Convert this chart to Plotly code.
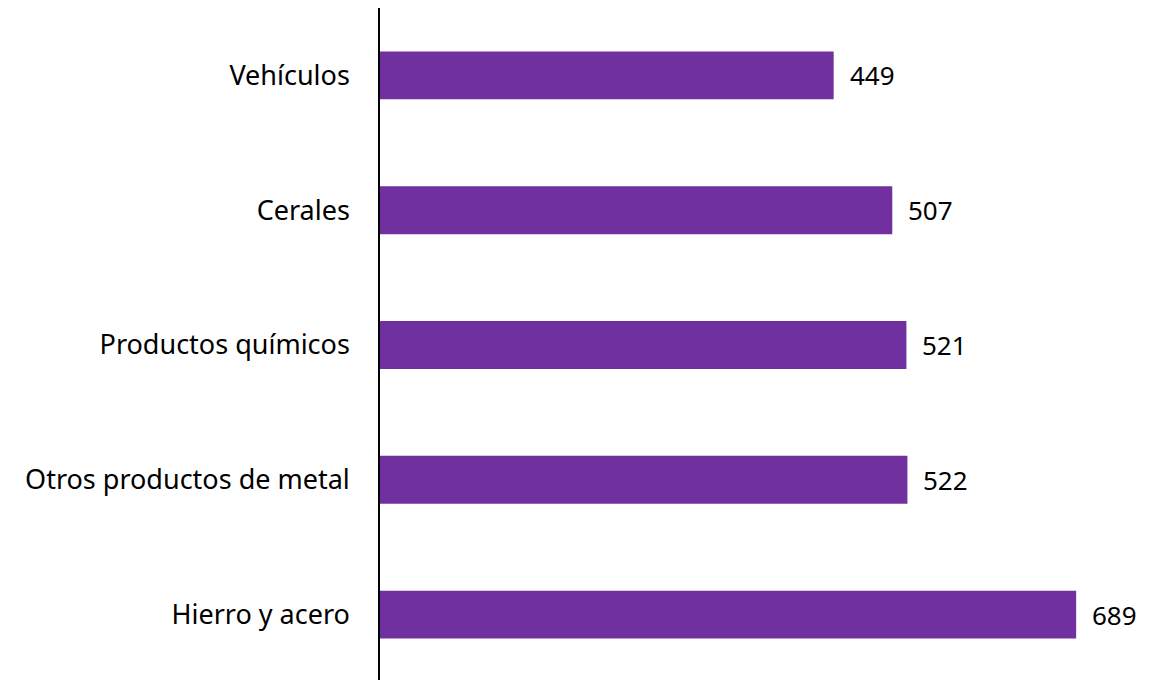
import plotly.graph_objects as go

categorias = ["Vehículos", "Cerales", "Productos químicos", "Otros productos de metal", "Hierro y acero"]
valores = [449, 507, 521, 522, 689]

fig = go.Figure()

fig.add_trace(go.Bar(
    x=valores,
    y=categorias,
    orientation="h",
    marker=dict(color="#7030A0", line=dict(width=0)),
    width=0.355,
    cliponaxis=False,
))

# etiquetas de valor a la derecha de cada barra
for cat, val in zip(categorias, valores):
    fig.add_annotation(
        x=val, y=cat,
        text=str(val),
        showarrow=False,
        xanchor="left",
        xshift=14,
        font=dict(size=26, color="#000000"),
    )

fig.update_layout(
    width=1162,
    height=680,
    showlegend=False,
    plot_bgcolor="white",
    paper_bgcolor="white",
    font=dict(family="Noto Sans, Open Sans, sans-serif", size=27, color="#000000"),
    margin=dict(l=372, r=12, t=0, b=6),
    xaxis=dict(
        range=[0, 770],
        visible=False,
    ),
    yaxis=dict(
        autorange="reversed",
        automargin=False,
        showline=True,
        linecolor="#000000",
        linewidth=1.5,
        showgrid=False,
        ticks="",
        ticklabelstandoff=23,
        tickfont=dict(size=27),
    ),
)

fig.write_html("out.html")
